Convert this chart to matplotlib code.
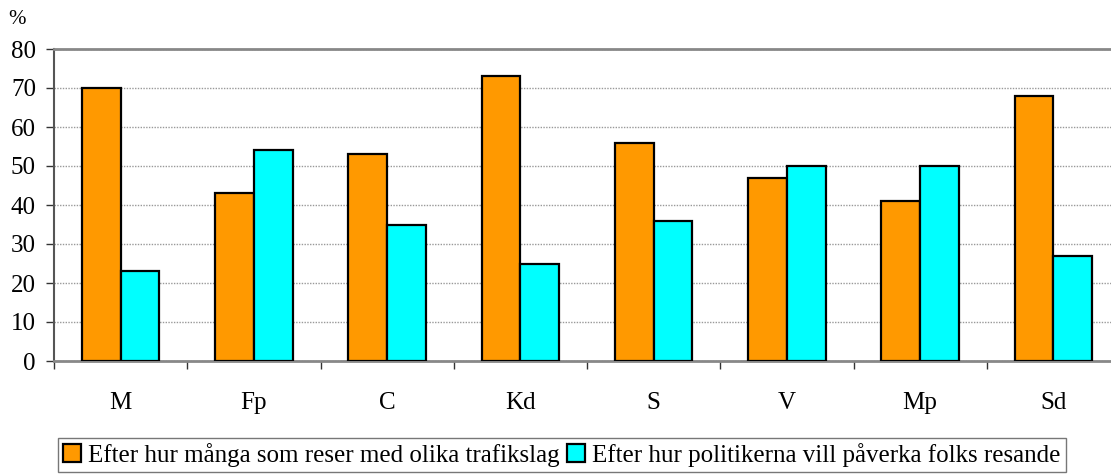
import matplotlib
matplotlib.use("Agg")
import matplotlib.pyplot as plt
import numpy as np

categories = ["M", "Fp", "C", "Kd", "S", "V", "Mp", "Sd"]
series1_name = "Efter hur många som reser med olika trafikslag"
series2_name = "Efter hur politikerna vill påverka folks resande"
series1 = [70, 43, 53, 73, 56, 47, 41, 68]
series2 = [23, 54, 35, 25, 36, 50, 50, 27]
yticks = [0, 10, 20, 30, 40, 50, 60, 70, 80]

plt.rcParams['font.family'] = ['Liberation Serif', 'DejaVu Serif']

fig = plt.figure(figsize=(11.11, 4.75), dpi=100)
ax = fig.add_axes([54/1111, 114/475, (1120-54)/1111, (361-49)/475])

x = np.arange(len(categories))
w = 0.29
ax.bar(x - w/2, series1, w, color="#FF9900", edgecolor="black", linewidth=1.6,
       label=series1_name, zorder=3)
ax.bar(x + w/2, series2, w, color="#00FFFF", edgecolor="black", linewidth=1.6,
       label=series2_name, zorder=3)

ax.set_xlim(-0.5, len(categories) - 0.5)
ax.set_ylim(0, 80)
ax.set_yticks(yticks)
ax.set_yticklabels([str(t) for t in yticks], fontsize=18)
ax.yaxis.grid(True, linestyle=(0, (1, 1)), color="#999999", linewidth=1, zorder=0)

ax.set_xticks(np.arange(len(categories) + 1) - 0.5)
ax.set_xticklabels([])
ax.set_xticks(x, minor=True)
ax.set_xticklabels(categories, minor=True, fontsize=18)
ax.tick_params(axis='x', which='major', direction='out', length=6, color="#333333", width=1)
ax.tick_params(axis='x', which='minor', length=0, pad=22)
ax.tick_params(axis='y', direction='out', length=6, color="#333333", width=1, pad=7)

ax.spines['right'].set_visible(False)
ax.spines['top'].set_color("#888888")
ax.spines['top'].set_linewidth(2)
ax.spines['bottom'].set_color("#888888")
ax.spines['bottom'].set_linewidth(2)
ax.spines['left'].set_color("#555555")
ax.spines['left'].set_linewidth(1.5)

fig.text(8/1111, 1 - 20/475, "%", fontsize=15, va="center", ha="left")

leg = fig.legend(loc="center", bbox_to_anchor=(562/1111, 1 - 455/475), ncol=2,
                 fontsize=18, frameon=True, fancybox=False, edgecolor="#555555",
                 handlelength=0.7, handleheight=0.7, handletextpad=0.3,
                 columnspacing=0.3, borderpad=0.2, borderaxespad=0)
leg.get_frame().set_linewidth(1)

fig.savefig("out.png", dpi=100)
